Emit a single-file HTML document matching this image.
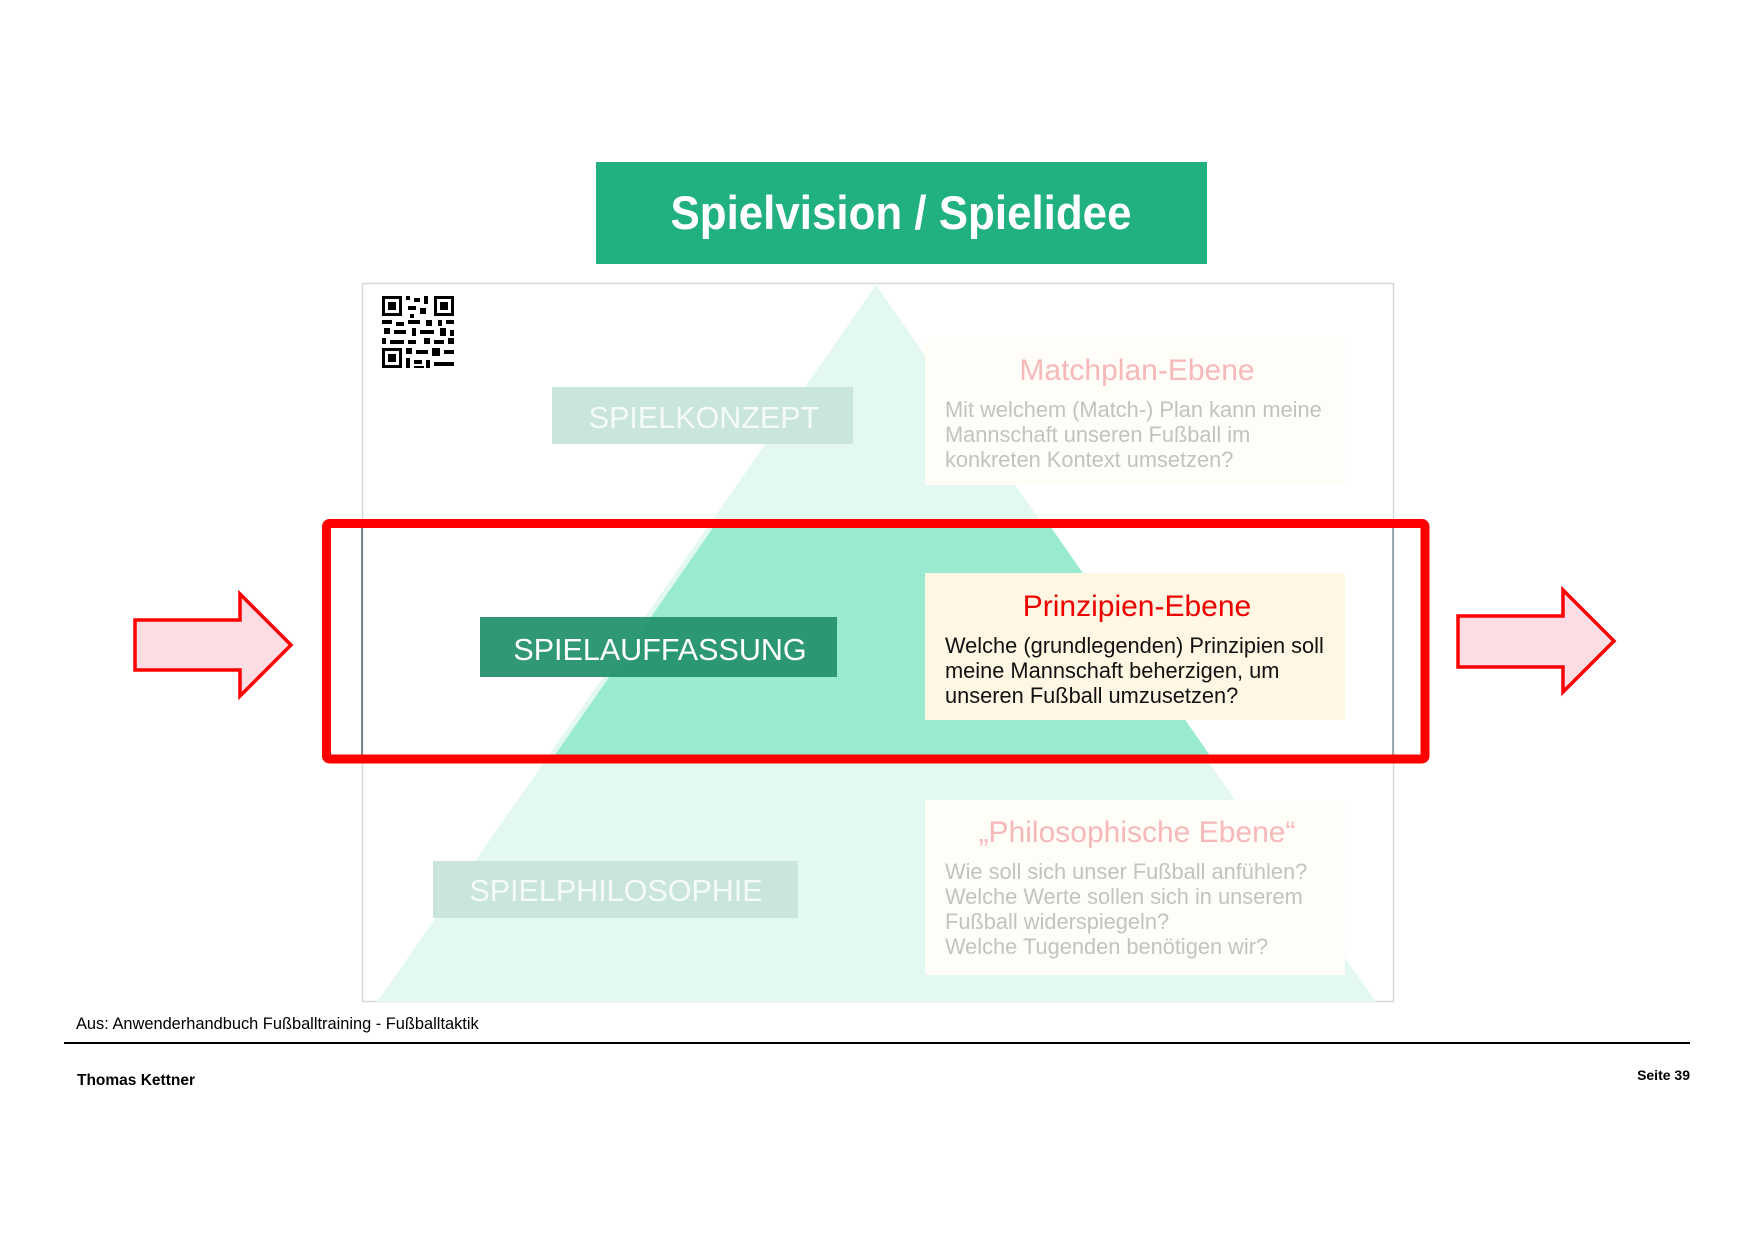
<!DOCTYPE html>
<html><head><meta charset="utf-8">
<style>
html,body{margin:0;padding:0;background:#fff;}
svg{display:block;}
text{font-family:"Liberation Sans",Arial,sans-serif;}
</style></head>
<body>
<svg width="1754" height="1240" viewBox="0 0 1754 1240" xmlns="http://www.w3.org/2000/svg">
<defs>
<clipPath id="band"><rect x="0" y="528" width="1754" height="230"/></clipPath>
<clipPath id="panel"><rect x="362" y="284" width="1031" height="718"/></clipPath>
</defs>
<!-- title -->
<rect x="596" y="162" width="611" height="102" fill="#21b07f"/>
<text x="901" y="229" font-size="47" font-weight="bold" fill="#fff" text-anchor="middle" textLength="461" lengthAdjust="spacingAndGlyphs">Spielvision / Spielidee</text>
<!-- panel -->
<rect x="362.5" y="283.5" width="1031" height="718" fill="#fff" stroke="#d6d8de" stroke-width="1.5"/>
<g clip-path="url(#panel)">
<polygon points="876,285 375,1005 1378,1005" fill="#e3f8f0"/>
<polygon points="876,285 375,1005 1378,1005" fill="#98ebd0" clip-path="url(#band)" transform="translate(6,0)"/>
</g>
<line x1="362" y1="528" x2="362" y2="758" stroke="#556070" stroke-width="1.5"/>
<line x1="1393" y1="528" x2="1393" y2="758" stroke="#8090a0" stroke-width="1.5"/>
<!-- QR -->
<g fill="#000">
<rect x="382" y="296" width="20" height="20"/><rect x="385" y="299" width="14" height="14" fill="#fff"/><rect x="388" y="302" width="8" height="8"/>
<rect x="434" y="296" width="20" height="20"/><rect x="437" y="299" width="14" height="14" fill="#fff"/><rect x="440" y="302" width="8" height="8"/>
<rect x="382" y="348" width="20" height="20"/><rect x="385" y="351" width="14" height="14" fill="#fff"/><rect x="388" y="354" width="8" height="8"/>
<rect x="406" y="296" width="4" height="4"/><rect x="414" y="298" width="6" height="4"/><rect x="424" y="296" width="4" height="8"/>
<rect x="408" y="306" width="8" height="4"/><rect x="420" y="308" width="6" height="6"/><rect x="410" y="314" width="4" height="4"/>
<rect x="382" y="320" width="10" height="4"/><rect x="396" y="322" width="8" height="4"/><rect x="408" y="320" width="12" height="4"/><rect x="426" y="320" width="6" height="6"/><rect x="438" y="320" width="4" height="6"/><rect x="446" y="320" width="8" height="4"/>
<rect x="384" y="328" width="6" height="6"/><rect x="394" y="330" width="12" height="4"/><rect x="412" y="328" width="4" height="8"/><rect x="420" y="330" width="14" height="4"/><rect x="440" y="328" width="6" height="8"/><rect x="450" y="330" width="4" height="6"/>
<rect x="382" y="338" width="4" height="6"/><rect x="390" y="340" width="14" height="4"/><rect x="408" y="340" width="8" height="4"/><rect x="424" y="338" width="6" height="6"/><rect x="434" y="340" width="10" height="4"/><rect x="448" y="338" width="6" height="6"/>
<rect x="406" y="348" width="6" height="6"/><rect x="416" y="350" width="12" height="4"/><rect x="432" y="348" width="8" height="8"/><rect x="444" y="350" width="10" height="4"/>
<rect x="406" y="358" width="4" height="10"/><rect x="414" y="360" width="8" height="4"/><rect x="426" y="360" width="4" height="8"/><rect x="434" y="362" width="20" height="4"/><rect x="414" y="366" width="10" height="2"/>
</g>
<!-- level boxes -->
<rect x="552" y="387" width="301" height="57" fill="#c9e5dc"/>
<text x="704" y="428" font-size="30.5" fill="#f4fbf8" text-anchor="middle">SPIELKONZEPT</text>
<rect x="480" y="617" width="357" height="60" fill="#25936c" opacity="0.95"/>
<text x="660" y="660" font-size="30.5" fill="#fff" text-anchor="middle">SPIELAUFFASSUNG</text>
<rect x="433" y="861" width="365" height="57" fill="#c9e5dc"/>
<text x="616" y="901" font-size="30.5" fill="#f4fbf8" text-anchor="middle">SPIELPHILOSOPHIE</text>
<!-- text boxes -->
<rect x="925" y="338" width="420" height="147" fill="#fffdf8"/>
<text x="1137" y="380" font-size="30" fill="#f6b8b8" text-anchor="middle">Matchplan-Ebene</text>
<g font-size="21.8" fill="#c2c2c2">
<text x="945" y="417">Mit welchem (Match-) Plan kann meine</text>
<text x="945" y="442">Mannschaft unseren Fußball im</text>
<text x="945" y="467">konkreten Kontext umsetzen?</text>
</g>
<rect x="925" y="573" width="420" height="147" fill="#fff7e3"/>
<text x="1137" y="616" font-size="30" fill="#ee0000" text-anchor="middle">Prinzipien-Ebene</text>
<g font-size="21.8" fill="#111">
<text x="945" y="653">Welche (grundlegenden) Prinzipien soll</text>
<text x="945" y="678">meine Mannschaft beherzigen, um</text>
<text x="945" y="703">unseren Fußball umzusetzen?</text>
</g>
<rect x="925" y="800" width="420" height="175" fill="#fffdf8"/>
<text x="1137" y="842" font-size="30" fill="#f6b8b8" text-anchor="middle">„Philosophische Ebene“</text>
<g font-size="21.8" fill="#c2c2c2">
<text x="945" y="879">Wie soll sich unser Fußball anfühlen?</text>
<text x="945" y="904">Welche Werte sollen sich in unserem</text>
<text x="945" y="929">Fußball widerspiegeln?</text>
<text x="945" y="954">Welche Tugenden benötigen wir?</text>
</g>
<!-- red rect -->
<rect x="326.5" y="523.5" width="1098.5" height="235.5" rx="3" fill="none" stroke="#ff0000" stroke-width="9"/>
<!-- arrows -->
<polygon points="135,620 240,620 240,594 291,645 240,696 240,670 135,670" fill="#fbdde3" stroke="#ff0000" stroke-width="3.5"/>
<polygon points="1458,616 1563,616 1563,590 1614,641 1563,692 1563,667 1458,667" fill="#fbdde3" stroke="#ff0000" stroke-width="3.5"/>
<!-- footer -->
<text x="76" y="1029" font-size="16.4" fill="#000">Aus: Anwenderhandbuch Fußballtraining - Fußballtaktik</text>
<rect x="64" y="1042" width="1626" height="2" fill="#000"/>
<text x="77" y="1085" font-size="15.5" font-weight="bold" fill="#000">Thomas Kettner</text>
<text x="1690" y="1080" font-size="14" font-weight="bold" fill="#000" text-anchor="end">Seite 39</text>
</svg>
</body></html>
